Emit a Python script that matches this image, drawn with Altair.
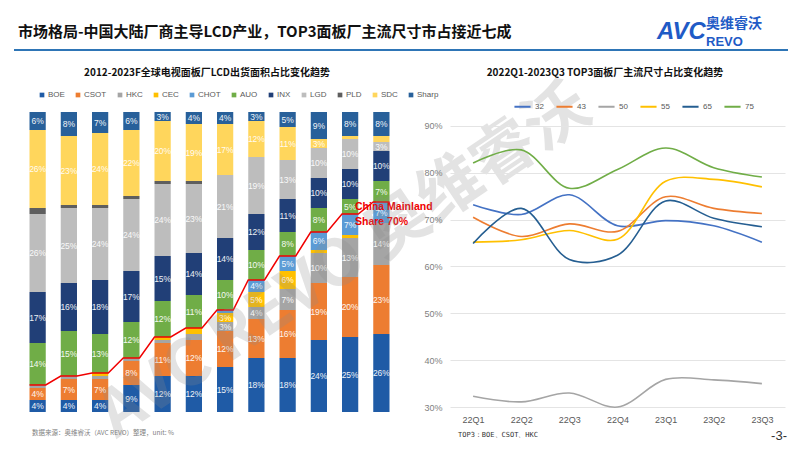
import json
import altair as alt
import pandas as pd

# ---------------- data ----------------
years = ["2012", "2013", "2014", "2015", "2016", "2017", "2018", "2019", "2020", "2021", "2022", "2023F"]
companies = ["BOE", "CSOT", "HKC", "CEC", "CHOT", "AUO", "INX", "LGD", "PLD", "SDC", "Sharp"]
mainland = ["BOE", "CSOT", "HKC", "CEC", "CHOT"]

BOE = [4, 4, 4, 9, 12, 12, 15, 18, 18, 24, 25, 26]
CSOT = [4, 7, 7, 8, 11, 12, 12, 13, 16, 19, 20, 23]
HKC = [1, 1, 1, 1, 1, 2, 3, 4, 7, 10, 13, 14]
CEC = [0, 0, 1, 0, 1, 2, 3, 5, 6, 1, 1, 0]
CHOT = [0, 0, 0, 0, 0, 0, 1, 4, 5, 6, 7, 7]
AUO = [14, 15, 13, 12, 12, 11, 10, 10, 8, 8, 5, 7]
INX = [17, 16, 18, 17, 15, 14, 14, 12, 11, 10, 10, 10]
LGD = [26, 25, 24, 24, 24, 23, 21, 19, 13, 10, 10, 3]
PLD = [2, 1, 1, 1, 1, 1, 0, 0, 0, 0, 0, 0]
SDC = [26, 23, 24, 22, 20, 19, 17, 12, 11, 3, 1, 2]
Sharp = [6, 8, 7, 6, 3, 4, 4, 3, 5, 9, 8, 8]
shares = {"BOE": BOE, "CSOT": CSOT, "HKC": HKC, "CEC": CEC, "CHOT": CHOT, "AUO": AUO,
          "INX": INX, "LGD": LGD, "PLD": PLD, "SDC": SDC, "Sharp": Sharp}
company_colors = ["#1F5BA6", "#ED7D31", "#A5A5A5", "#FFC000", "#5B9BD5", "#70AD47",
                  "#213F77", "#BDBDBD", "#5E5E5E", "#FFD65C", "#28609A"]

quarters = ["22Q1", "22Q2", "22Q3", "22Q4", "23Q1", "23Q2", "23Q3"]
sizes = ["32", "43", "50", "55", "65", "75"]
s32 = [73.2, 71.1, 75.3, 68.7, 69.8, 68.7, 65.2]
s43 = [70.5, 66.4, 69.1, 67.5, 74.9, 72.4, 71.3]
s50 = [32.3, 31.1, 33.0, 30.0, 35.9, 35.8, 35.0]
s55 = [65.2, 65.7, 67.7, 65.8, 78.2, 78.6, 77.0]
s65 = [64.9, 72.4, 61.5, 62.4, 74.0, 70.3, 68.5]
s75 = [82.1, 84.9, 76.7, 80.7, 85.3, 81.1, 79.1]
size_series = {"32": s32, "43": s43, "50": s50, "55": s55, "65": s65, "75": s75}
size_colors = ["#4472C4", "#ED7D31", "#A5A5A5", "#FFC000", "#255E91", "#70AD47"]

# ---------------- tables ----------------
HALF = 0.26
rows = []
for i, yr in enumerate(years):
    cum = 0
    for c in companies:
        v = shares[c][i]
        rows.append(dict(year=yr, idx=i, x0=i - HALF, x1=i + HALF, company=c, value=v,
                         y0=cum, y1=cum + v, ym=cum + v / 2, label=f"{v}%"))
        cum += v
bars_df = pd.DataFrame(rows)

line_rows = []
for i, yr in enumerate(years):
    m = sum(shares[c][i] for c in mainland)
    line_rows.append(dict(xx=i - HALF, v=m, o=2 * i))
    line_rows.append(dict(xx=i + HALF, v=m, o=2 * i + 1))
red_df = pd.DataFrame(line_rows)

size_df = pd.DataFrame([dict(quarter=q, size=s, value=size_series[s][j])
                        for s in sizes for j, q in enumerate(quarters)])

one = pd.DataFrame({"a": [0]})

CJK = "Noto Sans CJK SC"
LAT = "Liberation Sans"


def txt(t, x, y, size=10, color="#000000", bold=False, align="left", font=CJK,
        angle=0, opacity=1.0, baseline="middle", italic=False):
    kw = dict(text=t, fontSize=size, color=color, align=align, baseline=baseline,
              font=font, fontWeight="bold" if bold else "normal", opacity=opacity)
    if angle:
        kw["angle"] = angle
    if italic:
        kw["fontStyle"] = "italic"
    return alt.Chart(one).mark_text(**kw).encode(x=alt.value(x), y=alt.value(y))


# ---------------- left panel ----------------
xscale = alt.Scale(domain=[-0.5, 11.5], nice=False, zero=False)
yscale = alt.Scale(domain=[0, 100], nice=False)

canvas = alt.Chart(one).mark_rect(opacity=0).encode(
    x=alt.value(-22), x2=alt.value(780), y=alt.value(-112), y2=alt.value(339))

bars = alt.Chart(bars_df).mark_bar().encode(
    x=alt.X("x0:Q", scale=xscale,
            axis=alt.Axis(values=list(range(len(years))),
                          labelExpr=json.dumps(years) + "[datum.value]",
                          title=None, grid=False, ticks=False, domainColor="#D9D9D9",
                          labelColor="#595959", labelFontSize=9, labelPadding=5,
                          labelFont=LAT, labelFlush=False, labelOverlap=False)),
    x2="x1:Q",
    y=alt.Y("y0:Q", scale=yscale,
            axis=alt.Axis(values=list(range(0, 101, 10)), grid=True, gridColor="#E4E4E4",
                          labels=False, ticks=False, domain=False, title=None)),
    y2="y1:Q",
    color=alt.Color("company:N", scale=alt.Scale(domain=companies, range=company_colors),
                    legend=alt.Legend(orient="none", legendX=16, legendY=-21,
                                      direction="horizontal", title=None,
                                      symbolType="square", symbolSize=22,
                                      symbolStrokeWidth=0, labelFontSize=8,
                                      labelColor="#595959", labelFont=LAT,
                                      columnPadding=9, labelOffset=2)),
)

labels = alt.Chart(bars_df).transform_filter("datum.value >= 3").mark_text(
    color="white", fontSize=8.5, font=LAT, opacity=0.92).encode(
    x=alt.X("idx:Q", scale=xscale, axis=None),
    y=alt.Y("ym:Q", scale=yscale, axis=None),
    text="label:N")

red = alt.Chart(red_df).mark_line(color="#F00000", strokeWidth=1.5).encode(
    x=alt.X("xx:Q", scale=xscale, axis=None),
    y=alt.Y("v:Q", scale=yscale, axis=None),
    order="o:Q")

left = alt.layer(
    canvas,
    bars,
    labels,
    red,
    txt("市场格局-中国大陆厂商主导LCD产业，TOP3面板厂主流尺寸市占接近七成", -4, -80, 15, "#111111", True),
    alt.Chart(one).mark_rule(color="#2E75B6", strokeWidth=2).encode(
        x=alt.value(-8), x2=alt.value(766), y=alt.value(-62)),
    txt("AVC", 635, -80, 24, "#1F5BC6", True, font=LAT, italic=True),
    txt("奥维睿沃", 684, -88, 14, "#1F5BC6", True),
    txt("REVO", 684, -70, 13, "#1F5BC6", True, font=LAT),
    txt("2012-2023F全球电视面板厂LCD出货面积占比变化趋势", 185, -39, 10, "#111111", True, "center"),
    txt("China Mainland", 333, 95, 10.5, "#F00000", True, font=LAT),
    txt("Share 70%", 333, 110, 10.5, "#F00000", True, font=LAT),
    txt("数据来源：奥维睿沃（AVC REVO）整理，unit: %", 10, 321, 6.5, "#7F7F7F"),
    txt("AVC REVO 奥维睿沃", 323, 150, 64, "#8C8C8C", True, "center", angle=326, opacity=0.24),
).properties(width=375, height=300)

# ---------------- right panel ----------------
lines = alt.Chart(size_df).mark_line(interpolate="catmull-rom", strokeWidth=1.6).encode(
    x=alt.X("quarter:N", sort=quarters, scale=alt.Scale(type="point", padding=0.48),
            axis=alt.Axis(title=None, domain=False, ticks=False, labelAngle=0,
                          labelColor="#595959", labelFontSize=9, labelPadding=3,
                          labelFont=LAT, grid=False)),
    y=alt.Y("value:Q", scale=alt.Scale(domain=[28.94, 92.98], nice=False, zero=False),
            axis=alt.Axis(values=list(range(30, 91, 10)), labelExpr="datum.value + '%'",
                          grid=True, gridColor="#E4E4E4", ticks=False, domain=False,
                          labelColor="#7F7F7F", labelFontSize=9, labelPadding=8,
                          labelFont=LAT, title=None)),
    color=alt.Color("size:N", scale=alt.Scale(domain=sizes, range=size_colors),
                    legend=alt.Legend(orient="none", legendX=63, legendY=-15,
                                      direction="horizontal", title=None,
                                      symbolType="stroke", symbolSize=260,
                                      symbolStrokeWidth=2, labelFontSize=8,
                                      labelColor="#595959", labelFont=LAT,
                                      columnPadding=8, labelOffset=3)),
)

right = alt.layer(
    lines,
    txt("2022Q1-2023Q3 TOP3面板厂主流尺寸占比变化趋势", 155, -39, 10, "#111111", True, "center"),
    txt("TOP3：BOE、CSOT、HKC", 8, 323, 7, "#333333", font="DejaVu Sans Mono"),
    txt("-3-", 337, 324, 13, "#333333", align="right", font=LAT),
).properties(width=335, height=300)

chart = alt.hconcat(left, right, spacing=53, bounds="flush").resolve_scale(
    color="independent"
).resolve_legend(color="independent").properties(
    padding=0, background="white"
).configure_view(stroke=None)

chart.save("out.html", embed_options={"renderer": "svg", "actions": False})
